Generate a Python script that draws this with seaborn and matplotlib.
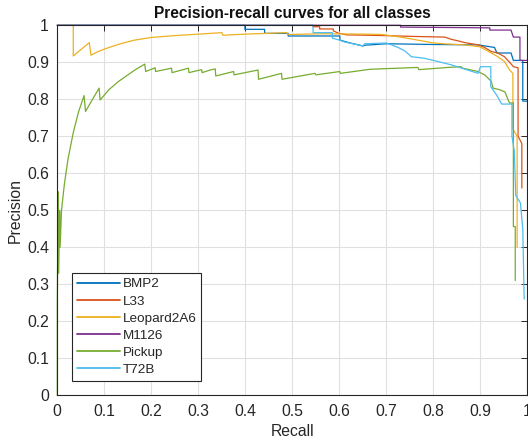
import numpy as np
import pandas as pd
import seaborn as sns
import matplotlib
matplotlib.use("Agg")
import matplotlib.pyplot as plt

classes = ["BMP2", "L33", "Leopard2A6", "M1126", "Pickup", "T72B"]
colors = ["#0072BD", "#D95319", "#EDB120", "#7E2F8E", "#77AC30", "#4DBEEE"]

bmp2_recall = [0, 0.399, 0.399, 0.441, 0.441, 0.491, 0.491, 0.601, 0.601, 0.62, 0.65, 0.654, 0.70,
               0.80, 0.895, 0.93, 0.935, 0.965, 0.97, 0.99, 0.99, 1.0]
bmp2_precision = [1, 1, 0.989, 0.989, 0.978, 0.978, 0.971, 0.971, 0.96, 0.953, 0.944, 0.946, 0.95,
                  0.948, 0.947, 0.94, 0.925, 0.925, 0.905, 0.905, 0.795, 0.795]

l33_recall = [0, 0.544, 0.544, 0.558, 0.558, 0.587, 0.587, 0.597, 0.615, 0.70, 0.75, 0.824, 0.838,
              0.852, 0.867, 0.895, 0.909, 0.923, 0.937, 0.951, 0.962, 0.97, 0.98, 0.98, 0.988, 0.988]
l33_precision = [1, 1, 0.996, 0.996, 0.99, 0.99, 0.985, 0.979, 0.974, 0.972, 0.97, 0.968, 0.962,
                 0.958, 0.953, 0.947, 0.94, 0.929, 0.925, 0.915, 0.90, 0.888, 0.885, 0.70, 0.68, 0.56]

leo_recall = [0, 0.034, 0.034, 0.068, 0.0716, 0.085, 0.101, 0.12, 0.137, 0.165, 0.2, 0.25, 0.30,
              0.35, 0.352, 0.40, 0.488, 0.49, 0.565, 0.654, 0.69, 0.725, 0.753, 0.796, 0.82, 0.867,
              0.898, 0.916, 0.937, 0.951, 0.962, 0.969, 0.969, 0.978, 0.978]
leo_precision = [1, 1, 0.917, 0.953, 0.919, 0.928, 0.936, 0.944, 0.951, 0.96, 0.967, 0.972, 0.976,
                 0.98, 0.973, 0.976, 0.98, 0.975, 0.977, 0.976, 0.975, 0.969, 0.963, 0.953, 0.95,
                 0.947, 0.942, 0.93, 0.915, 0.902, 0.879, 0.87, 0.72, 0.70, 0.40]

m1126_recall = [0, 0.73, 0.73, 0.92, 0.92, 0.965, 0.97, 0.984, 0.984, 1.0]
m1126_precision = [1, 1, 0.995, 0.993, 0.987, 0.987, 0.968, 0.968, 0.905, 0.905]

pickup_recall = [0, 0, 0.002, 0.003, 0.005, 0.006, 0.009, 0.015, 0.023, 0.034, 0.045, 0.057, 0.060,
                 0.075, 0.089, 0.091, 0.11, 0.13, 0.165, 0.186, 0.188, 0.208, 0.209, 0.243, 0.244,
                 0.279, 0.28, 0.307, 0.308, 0.325, 0.336, 0.337, 0.375, 0.376, 0.427, 0.428, 0.477,
                 0.478, 0.548, 0.55, 0.601, 0.602, 0.665, 0.725, 0.767, 0.769, 0.831, 0.859, 0.862,
                 0.895, 0.91, 0.923, 0.927, 0.94, 0.952, 0.959, 0.962, 0.97, 0.97, 0.974, 0.974]
pickup_precision = [0, 0.25, 0.55, 0.33, 0.5, 0.4, 0.50, 0.57, 0.64, 0.71, 0.765, 0.81, 0.767,
                    0.80, 0.83, 0.798, 0.826, 0.848, 0.879, 0.895, 0.875, 0.885, 0.875, 0.884, 0.872,
                    0.884, 0.872, 0.88, 0.872, 0.879, 0.882, 0.863, 0.875, 0.866, 0.879, 0.854, 0.87,
                    0.854, 0.87, 0.866, 0.875, 0.87, 0.881, 0.884, 0.886, 0.88, 0.886, 0.888, 0.884,
                    0.875, 0.865, 0.848, 0.83, 0.826, 0.82, 0.798, 0.79, 0.79, 0.456, 0.456, 0.31]

t72b_recall = [0, 0.544, 0.544, 0.585, 0.585, 0.60, 0.61, 0.625, 0.65, 0.654, 0.70, 0.725, 0.74,
               0.753, 0.78, 0.80, 0.838, 0.87, 0.895, 0.90, 0.922, 0.922, 0.935, 0.945, 0.967,
               0.967, 0.972, 0.975, 0.985, 0.99, 0.993]
t72b_precision = [1, 1, 0.98, 0.98, 0.965, 0.96, 0.955, 0.951, 0.944, 0.95, 0.952, 0.94, 0.93,
                  0.915, 0.911, 0.905, 0.893, 0.88, 0.87, 0.888, 0.888, 0.834, 0.81, 0.787, 0.787,
                  0.70, 0.66, 0.54, 0.52, 0.45, 0.26]

series = {
    "BMP2": (bmp2_recall, bmp2_precision),
    "L33": (l33_recall, l33_precision),
    "Leopard2A6": (leo_recall, leo_precision),
    "M1126": (m1126_recall, m1126_precision),
    "Pickup": (pickup_recall, pickup_precision),
    "T72B": (t72b_recall, t72b_precision),
}

frames = []
for name in classes:
    r, p = series[name]
    frames.append(pd.DataFrame({"Recall": r, "Precision": p, "class": name,
                                "order": np.arange(len(r))}))
df = pd.concat(frames, ignore_index=True)

sns.set_style("white")
plt.rcParams["font.family"] = ["Liberation Sans", "DejaVu Sans"]

fig = plt.figure(figsize=(5.28, 4.43), dpi=100)
ax = fig.add_axes([0.1085, 0.1077, 0.8905, 0.8353])

sns.lineplot(data=df, x="Recall", y="Precision", hue="class", hue_order=classes,
             palette=dict(zip(classes, colors)), sort=False, estimator=None,
             linewidth=0.9, ax=ax)
for ln in ax.lines:
    ln.set_clip_on(False)

ax.set_xlim(0, 1)
ax.set_ylim(0, 1)
ticks = np.round(np.arange(0, 1.01, 0.1), 1)
ticklabels = ["0"] + [f"{t:.1f}" for t in ticks[1:-1]] + ["1"]
ax.set_xticks(ticks)
ax.set_xticklabels(ticklabels)
ax.set_yticks(ticks)
ax.set_yticklabels(ticklabels)
ax.grid(True, color="#e0e0e0", linewidth=0.8)
ax.set_axisbelow(True)
ax.tick_params(direction="in", length=4, width=0.7, colors="#262626", labelsize=11.3,
               top=True, right=True, labelcolor="#262626", pad=6)
for s in ax.spines.values():
    s.set_color("#262626")
    s.set_linewidth(0.8)

ax.set_xlabel("Recall", fontsize=11.3, color="#262626", labelpad=4)
ax.set_ylabel("Precision", fontsize=11.3, color="#262626", labelpad=3)
ax.set_title("Precision-recall curves for all classes", fontsize=11.2, fontweight="bold",
             color="#111111", pad=5)

handles, labels = ax.get_legend_handles_labels()
leg = ax.legend(handles, labels, loc="lower left", bbox_to_anchor=(0.031, 0.039),
                borderaxespad=0, frameon=True, fancybox=False, edgecolor="#262626",
                framealpha=1, fontsize=9.7, handlelength=3.2, handletextpad=0.2,
                labelspacing=0.35, borderpad=0.35)
leg.get_frame().set_linewidth(0.8)
for lh in leg.get_lines():
    lh.set_linewidth(1.3)

fig.savefig("out.png", dpi=100)
